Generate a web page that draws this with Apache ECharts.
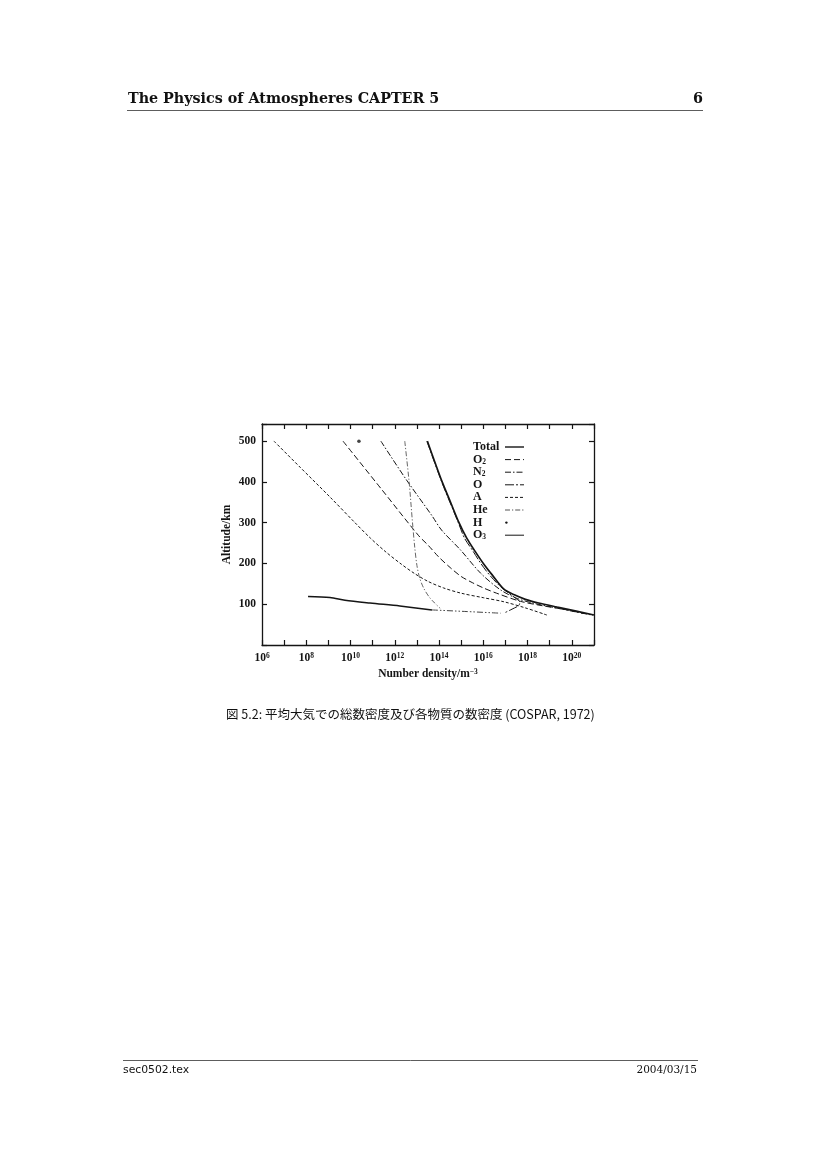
<!DOCTYPE html>
<html><head><meta charset="utf-8">
<script src="https://cdn.jsdelivr.net/npm/echarts@6/dist/echarts.min.js"></script>
<style>html,body{margin:0;padding:0;background:#fff}#c{width:826px;height:1169px}</style>
</head><body><div id="c"></div>
<script>
// x values are log10(number density / m^-3), y values are altitude in km
const xMinExp = 6, xMaxExp = 21;
const xLabelExps = [6, 8, 10, 12, 14, 16, 18, 20];
const yTickLabels = [100, 200, 300, 400, 500];
const seriesNames = ['Total', 'O2', 'N2', 'O', 'A', 'He', 'H', 'O3'];

const totalData = [[13.47,500],[13.8,450],[14.14,400],[14.52,350],[14.9,300],[15.25,262],[15.6,232],[16.0,200],[16.4,172],[16.93,137],[17.4,123],[17.9,112],[18.5,103],[19.34,93],[20.2,83],[21.0,73.5]];
const o2Data = [[9.66,500],[11.4,382],[13.08,268],[13.5,245],[14.0,215],[14.5,190],[15.0,168],[15.5,153],[16.0,140],[16.6,127],[17.68,107],[18.7,96],[19.79,86],[20.55,77]];
const n2Data = [[11.37,500],[12.5,407],[13.68,317],[14.11,282],[14.97,233],[15.88,176],[16.78,135],[17.53,114],[18.3,102],[19.2,92],[20.1,82],[20.95,73]];
const oData = [[13.45,500],[14.12,400],[14.87,300],[15.15,262],[15.5,233],[15.85,203],[16.2,177],[16.7,147],[17.1,129],[17.45,115],[17.65,105],[17.6,97],[17.3,88],[17.0,80]];
const aData = [[6.54,500],[7.72,436],[9.07,363],[10.2,300],[10.9,262],[11.6,228],[12.3,198],[12.9,175],[13.5,156],[14.2,140],[15.0,127],[16.0,116],[16.93,106],[17.9,91],[18.87,73.5]];
const heData = [[12.45,500],[12.64,404],[12.8,300],[12.9,240],[13.0,195],[13.12,165],[13.3,140],[13.55,118],[13.8,103],[14.05,90]];
const hData = [[10.38,500]];
const o3UpperData = [[8.08,119],[9.07,116.5],[9.75,110],[10.88,103],[12.23,95.6],[13.68,86]];
const o3LowerData = [[13.68,86],[15.27,82],[16.78,78]];

const legendLabels = {
  'Total': '{t|Total}', 'O2': '{t|O}{s|2}', 'N2': '{t|N}{s|2}', 'O': '{t|O}',
  'A': '{t|A}', 'He': '{t|He}', 'H': '{t|H}', 'O3': '{t|O}{s|3}'
};

const ink = '#151515';
const serif = 'Liberation Serif';

function lineSeries(name, data, type, width, color) {
  return {
    name: name, type: 'line', data: data, symbol: 'none', smooth: 0.3,
    lineStyle: { color: color || ink, width: width, type: type },
    itemStyle: { color: color || ink }, emphasis: { disabled: true }, silent: true
  };
}

const chart = echarts.init(document.getElementById('c'), null, { renderer: 'canvas' });
const axisLineStyle = { show: true, onZero: false, lineStyle: { color: ink, width: 1.3 } };
const tickStyle = { show: true, inside: true, length: 5, lineStyle: { color: ink, width: 1.2 } };
const supRich = {
  b: { fontFamily: serif, fontWeight: 'bold', fontSize: 11.5, color: ink },
  p: { fontFamily: serif, fontWeight: 'bold', fontSize: 7.5, color: ink, verticalAlign: 'top' }
};

chart.setOption({
  animation: false,
  backgroundColor: '#fff',
  grid: { left: 262, top: 424, width: 332, height: 221 },
  xAxis: [{
    type: 'value', min: xMinExp, max: xMaxExp, interval: 1, position: 'bottom',
    axisLine: axisLineStyle, axisTick: tickStyle, splitLine: { show: false },
    axisLabel: {
      margin: 7, color: ink,
      formatter: v => xLabelExps.indexOf(v) >= 0 ? '{b|10}{p|' + v + '}' : '',
      rich: supRich
    },
    name: '{b|Number density/m}{p|−3}', nameLocation: 'middle', nameGap: 23,
    nameTextStyle: { rich: supRich }
  }, {
    type: 'value', min: xMinExp, max: xMaxExp, interval: 1, position: 'top',
    axisLine: axisLineStyle, axisTick: tickStyle, splitLine: { show: false },
    axisLabel: { show: false }
  }],
  yAxis: [{
    type: 'value', min: 0, max: 542, interval: 100, position: 'left',
    axisLine: axisLineStyle, axisTick: tickStyle, splitLine: { show: false },
    axisLabel: {
      margin: 6, color: ink, fontFamily: serif, fontWeight: 'bold', fontSize: 11.5,
      formatter: v => yTickLabels.indexOf(v) >= 0 ? String(v) : ''
    },
    name: 'Altitude/km', nameLocation: 'middle', nameGap: 29, nameRotate: 90,
    nameTextStyle: { fontFamily: serif, fontWeight: 'bold', fontSize: 11.5, color: ink }
  }, {
    type: 'value', min: 0, max: 542, interval: 100, position: 'right',
    axisLine: axisLineStyle, axisTick: tickStyle, splitLine: { show: false },
    axisLabel: { show: false }
  }],
  legend: {
    orient: 'vertical', left: 468, top: 436, align: 'right',
    itemWidth: 19, itemHeight: 10, itemGap: 0.6, selectedMode: false,
    itemStyle: { opacity: 0 },
    lineStyle: { width: 1 },
    data: [
      { name: 'Total', lineStyle: { width: 1.4 } }, 'O2', 'N2', 'O', 'A', 'He',
      { name: 'H', icon: 'path://M0,0M19,10M0.2,5a1.2,1.2 0 1,0 2.4,0a1.2,1.2 0 1,0 -2.4,0z', itemStyle: { opacity: 1 } },
      'O3'
    ],
    formatter: name => legendLabels[name],
    textStyle: {
      width: 27, color: ink,
      rich: {
        t: { fontFamily: serif, fontWeight: 'bold', fontSize: 12, lineHeight: 12, color: ink, align: 'left' },
        s: { fontFamily: serif, fontWeight: 'bold', fontSize: 7.5, lineHeight: 12, color: ink, align: 'left', verticalAlign: 'bottom' }
      }
    }
  },
  series: [
    lineSeries('Total', totalData, 'solid', 1.7),
    lineSeries('O2', o2Data, [6, 3], 1),
    lineSeries('N2', n2Data, [6, 2, 1.5, 2], 1),
    lineSeries('O', oData, [9, 2, 2, 2], 1),
    lineSeries('A', aData, [3, 2], 1),
    lineSeries('He', heData, [5, 2, 1.2, 2], 0.9, '#555'),
    { name: 'H', type: 'scatter', data: hData, symbol: 'circle', symbolSize: 3.5,
      itemStyle: { color: ink }, silent: true },
    lineSeries('O3', o3UpperData, 'solid', 1.5),
    lineSeries('O3', o3LowerData, [6, 2, 1.5, 2, 1.5, 2], 1, '#444')
  ],
  graphic: [
    { type: 'text', left: 128, top: 92, style: { text: 'The Physics of Atmospheres CAPTER 5', fontFamily: 'DejaVu Serif', fontWeight: 'bold', fontSize: 14.3, fill: '#111' } },
    { type: 'text', right: 826 - 703, top: 92, style: { text: '6', fontFamily: 'DejaVu Serif', fontWeight: 'bold', fontSize: 14.3, fill: '#111' } },
    { type: 'line', shape: { x1: 127, y1: 110.5, x2: 703, y2: 110.5 }, style: { stroke: '#333', lineWidth: 0.8 } },
    { type: 'text', left: 226, top: 708, style: { text: '図 5.2: 平均大気での総数密度及び各物質の数密度 (COSPAR, 1972)', fontFamily: 'Noto Sans CJK JP', fontSize: 12.5, fill: '#111' } },
    { type: 'line', shape: { x1: 123, y1: 1060.5, x2: 698, y2: 1060.5 }, style: { stroke: '#333', lineWidth: 0.8 } },
    { type: 'text', left: 123, top: 1065, style: { text: 'sec0502.tex', fontFamily: 'DejaVu Sans', fontSize: 10.8, fill: '#111' } },
    { type: 'text', right: 826 - 697, top: 1065, style: { text: '2004/03/15', fontFamily: 'DejaVu Serif', fontSize: 10.5, fill: '#111' } }
  ]
});
</script>
</body></html>
